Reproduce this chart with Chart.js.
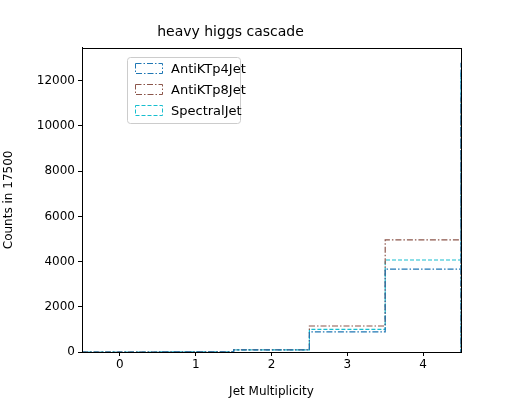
<!DOCTYPE html>
<html>
<head>
<script src="https://cdn.jsdelivr.net/npm/chart.js@4"></script>
<style>
  body { margin: 0; background: #fff; }
  #wrap { width: 512px; height: 405px; }
</style>
</head>
<body>
<div id="wrap"><canvas id="c"></canvas></div>
<script>
const categories = [0, 1, 2, 3, 4];
const antiKTp4Jet = [10, 90, 890, 3670, 12800];
const antiKTp8Jet = [10, 100, 1150, 4960, 11250];
const spectralJet = [10, 95, 1000, 4070, 12400];
const yTicks = [0, 2000, 4000, 6000, 8000, 10000, 12000];

// histogram step outline: rise at left edge, drop back to zero at right edge
function steps(vals) {
  const pts = [{ x: categories[0] - 0.5, y: 0 }];
  categories.forEach((c, i) => pts.push({ x: c + 0.5, y: vals[i] }));
  pts.push({ x: categories[categories.length - 1] + 0.5, y: 0 });
  return pts;
}

const series = [
  { label: "AntiKTp4Jet", data: antiKTp4Jet, color: "#1f77b4", dash: [6, 2, 1.5, 2] },
  { label: "AntiKTp8Jet", data: antiKTp8Jet, color: "#8c564b", dash: [6, 2, 1.5, 2] },
  { label: "SpectralJet", data: spectralJet, color: "#17becf", dash: [4, 2] }
];

const frameAndLegend = {
  id: "frameAndLegend",
  afterDraw(chart) {
    const ctx = chart.ctx;
    const a = chart.chartArea;
    ctx.save();
    ctx.strokeStyle = "#000";
    ctx.lineWidth = 1;
    ctx.strokeRect(Math.round(a.left) + 0.5, Math.round(a.top) + 0.5, Math.round(a.right - a.left), Math.round(a.bottom - a.top));
    const x0 = 127, y0 = 57;
    ctx.fillStyle = "rgba(255,255,255,0.8)";
    ctx.strokeStyle = "#cccccc";
    ctx.beginPath();
    ctx.roundRect(x0 + 0.5, y0 + 0.5, 113, 66, 3);
    ctx.fill();
    ctx.stroke();
    ctx.font = "13px 'DejaVu Sans'";
    ctx.textBaseline = "middle";
    series.forEach((s, i) => {
      const cy = y0 + 12 + i * 21;
      ctx.strokeStyle = s.color;
      ctx.setLineDash(s.dash);
      ctx.strokeRect(x0 + 8.5, cy - 5.5, 27, 10);
      ctx.setLineDash([]);
      ctx.fillStyle = "#000";
      ctx.fillText(s.label, x0 + 44, cy + 1);
    });
    ctx.restore();
  }
};

const tickFont = { family: "DejaVu Sans", size: 12 };

new Chart(document.getElementById("c"), {
  type: "line",
  data: {
    datasets: series.map(s => ({
      label: s.label,
      data: steps(s.data),
      borderColor: s.color,
      borderDash: s.dash,
      borderWidth: 1.2,
      stepped: "before",
      pointRadius: 0,
      fill: false
    }))
  },
  options: {
    responsive: true,
    maintainAspectRatio: false,
    animation: false,
    layout: { padding: { top: 24, right: 51, bottom: 6, left: 0 } },
    plugins: {
      legend: { display: false },
      tooltip: { enabled: false },
      title: {
        display: true,
        text: "heavy higgs cascade",
        color: "#000",
        font: { family: "DejaVu Sans", size: 14, weight: "normal" },
        padding: { top: 0, bottom: 7 }
      }
    },
    scales: {
      x: {
        type: "linear",
        min: -0.5,
        max: 4.5,
        grid: { drawOnChartArea: false, color: "#000", tickLength: 4 },
        border: { color: "#000" },
        afterBuildTicks: ax => { ax.ticks = categories.map(v => ({ value: v })); },
        ticks: { color: "#000", font: tickFont, padding: 2, callback: v => String(v) },
        title: { display: true, text: "Jet Multiplicity", color: "#000", font: tickFont, padding: 0 },
        afterFit: ax => { ax.height = 47; }
      },
      y: {
        min: 0,
        max: 13460,
        grid: { drawOnChartArea: false, color: "#000", tickLength: 4 },
        border: { color: "#000" },
        afterBuildTicks: ax => { ax.ticks = yTicks.map(v => ({ value: v })); },
        ticks: { color: "#000", font: tickFont, padding: 3, callback: v => String(v) },
        title: { display: true, text: "Counts in 17500", color: "#000", font: tickFont, padding: 2 },
        afterFit: ax => { ax.width = 82; }
      }
    }
  },
  plugins: [frameAndLegend]
});
</script>
</body>
</html>
